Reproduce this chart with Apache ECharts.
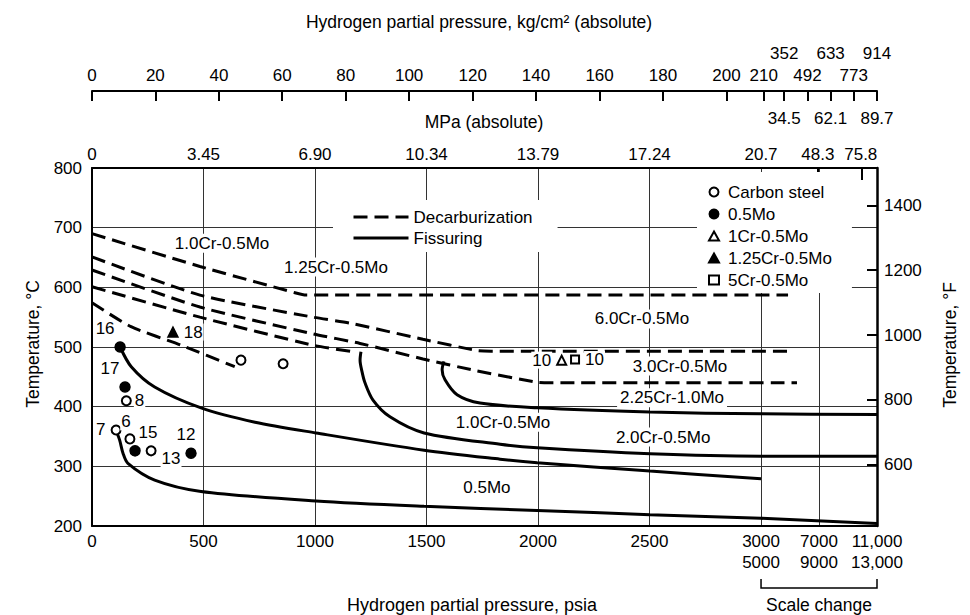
<!DOCTYPE html>
<html>
<head>
<meta charset="utf-8">
<script src="https://cdn.jsdelivr.net/npm/echarts@6/dist/echarts.min.js"></script>
<style>html,body{margin:0;padding:0;background:#fff}#c{width:970px;height:615px}</style>
</head>
<body>
<div id="c"></div>
<script>
// ---------------- DATA (x: hydrogen partial pressure, psia; y: temperature, °C) ----------------
// Decarburization (dashed) curves
const decarbA = [[0,690],[484,635],[910,591],[960,587],[5330,587]];
const decarbB = [[0,651],[484,587],[991,550],[1157,540],[1484,513],[1726,494],[1790,493],[5250,493]];
const decarbC = [[0,629],[484,567],[991,522],[1202,506],[1484,480],[1726,460],[1996,441],[2050,440],[6100,440]];
const decarbD = [[0,601],[484,550],[991,503],[1170,492]];
const decarbE = [[0,574],[175,534],[400,503],[640,467]];
// Fissuring (solid) curves
const fissF1 = [[126,500],[176,467],[281,433],[489,398],[731,374],[1004,356],[1489,327],[1830,312],[1996,306],[2502,292],[3000,279]];
const fissF2 = [[1206,492],[1202,478],[1210,460],[1224,440],[1260,411],[1336,383],[1489,356],[1830,337],[1996,331],[2502,321],[3000,317],[13000,317]];
const fissF3 = [[1578,476],[1570,462],[1583,445],[1637,420],[1740,406],[1996,398],[2502,391],[3000,388],[13000,387]];
const fissF4 = [[110,358],[124,344],[139,322],[161,305],[281,277],[489,258],[1004,242],[1489,233],[1996,226],[2502,219],[3000,213],[13000,204]];
// Operating points
const carbonSteel = [[154,410],[108,361],[170,346],[265,326],[668,478],[857,472]];
const carbonSteelNo = ['8','7','6','13','',''];
const mo05 = [[126,500],[148,433],[193,326],[444,322]];
const mo05No = ['16','17','15','12'];
const cr1mo = [[2106,478]];
const cr1moNo = ['10'];
const cr125mo = [[363,525]];
const cr125moNo = ['18'];
const cr5mo = [[2166,479]];
const cr5moNo = ['10'];
// Region labels and where they sit (psia, °C)
const regionLabels = ['1.0Cr-0.5Mo','1.25Cr-0.5Mo','6.0Cr-0.5Mo','3.0Cr-0.5Mo','2.25Cr-1.0Mo','1.0Cr-0.5Mo','2.0Cr-0.5Mo','0.5Mo'];
const regionLabelAt = [[583,674],[1094,634],[2466,547],[2637,468],[2601,415],[1843,374],[2561,349],[1771,265]];
// Tick labels (positions given in psia on the broken axis)
const psiTickLabels = ['0','500','1000','1500','2000','2500','3000\n5000','7000\n9000','11,000\n13,000'];
const psiTickAt = [0,500,1000,1500,2000,2500,3000,8000,13000];
const psiGridAt = [500,1000,1500,2000,2500,3000,8000];
const mpaLabels = ['0','3.45','6.90','10.34','13.79','17.24','20.7','48.3','75.8'];
const mpaAt = [0,500,1000,1500,2000,2500,3000,7900,11600];
const mpaExtraTickAt = [7900,11700];
const mpa2Labels = ['34.5','62.1','89.7'];
const mpa2At = [5000,9000,13000];
const kgLabels = ['0','20','40','60','80','100','120','140','160','180','200','210','492','773'];
const kgAt = [0,284,569,853,1138,1422,1707,1991,2276,2560,2845,3230,7000,11000];
const kg2Labels = ['352','633','914'];
const kg2At = [5000,9000,13000];
const fTicks = [600,800,1000,1200,1400];

// ---------------- SCALE (broken axis: compressed beyond 3000 psia) ----------------
function u(psi){ const v = psi <= 3000 ? psi : 3000 + (psi - 3000) * 0.052; return Math.round(v * 1000) / 1000; }
const X_MAX = u(13000);
const FONT = '"Liberation Sans", Arial, Helvetica, sans-serif';
const txt = {color:'#000', fontSize:17, fontFamily:FONT};
function fmtFrom(at, labels){ const us = at.map(u); return function(v){ const i = us.findIndex(w => Math.abs(w - v) < 0.01); return i >= 0 ? labels[i] : ''; }; }
const mapPts = arr => arr.map(p => [u(p[0]), p[1]]);

const place = {
  r:  {position:'right', distance:4},
  r8: {position:'right', distance:2},
  l:  {position:'left', distance:4},
  t:  {position:'top', distance:4, offset:[-5,0]},
  t6: {position:'top', distance:3, offset:[-4,0]},
  tl: {position:'top', distance:4, offset:[-15,0]},
  tr: {position:'top', distance:4, offset:[13,0]},
  br: {position:'right', distance:4, offset:[0,8]}
};
const carbonPlace = ['r8','l','t6','br','',''];
const moPlace = ['tl','tl','tr','t'];

function ptData(pts, nos, places){
  return pts.map((p, i) => {
    const item = {value:[u(p[0]), p[1]]};
    if (nos[i]) item.label = Object.assign({show:true, formatter:nos[i], color:'#000', fontSize:17, fontFamily:FONT, backgroundColor:'#fff', padding:[0,1]}, place[places[i]]);
    return item;
  });
}
const ptLabel = {show:false, ...txt};
const ptStyle = {color:'#000', borderColor:'#000', borderWidth:1.5, opacity:1};

const series = [];
[decarbA, decarbB, decarbC, decarbD, decarbE].forEach(d => series.push({
  type:'line', name:'Decarburization', data:mapPts(d), symbol:'none', showSymbol:false, smooth:0.2,
  color:'#000', itemStyle:{color:'#000'},
  lineStyle:{color:'#000', width:3, type:[14,7]}, z:3, silent:true, animation:false
}));
[fissF1, fissF2, fissF3, fissF4].forEach(d => series.push({
  type:'line', name:'Fissuring', data:mapPts(d), symbol:'none', showSymbol:false, smooth:0.3,
  color:'#000', itemStyle:{color:'#000'},
  lineStyle:{color:'#000', width:3, type:'solid'}, z:3, silent:true, animation:false
}));
series.push({type:'scatter', name:'Carbon steel', symbol:'emptyCircle', symbolSize:9, color:'#000', itemStyle:ptStyle, label:ptLabel, emphasis:{disabled:true}, data:ptData(carbonSteel, carbonSteelNo, carbonPlace), z:4});
series.push({type:'scatter', name:'0.5Mo', symbol:'circle', symbolSize:10, color:'#000', itemStyle:ptStyle, label:ptLabel, emphasis:{disabled:true}, data:ptData(mo05, mo05No, moPlace), z:4});
series.push({type:'scatter', name:'1Cr-0.5Mo', symbol:'emptyTriangle', symbolSize:9, color:'#000', itemStyle:ptStyle, label:ptLabel, emphasis:{disabled:true}, data:ptData(cr1mo, cr1moNo, ['l']), z:4});
series.push({type:'scatter', name:'1.25Cr-0.5Mo', symbol:'triangle', symbolSize:10, color:'#000', itemStyle:ptStyle, label:ptLabel, emphasis:{disabled:true}, data:ptData(cr125mo, cr125moNo, ['r']), z:4});
series.push({type:'scatter', name:'5Cr-0.5Mo', symbol:'emptyRect', symbolSize:8, color:'#000', itemStyle:ptStyle, label:ptLabel, emphasis:{disabled:true}, data:ptData(cr5mo, cr5moNo, ['r']), z:4});
series.push({
  type:'custom', name:'regionLabels', coordinateSystem:'cartesian2d', data:mapPts(regionLabelAt), z:5, silent:true,
  renderItem:function(params, api){
    const p = api.coord([api.value(0), api.value(1)]);
    return {type:'text', x:p[0], y:p[1], style:{text:regionLabels[params.dataIndex], fill:'#000', fontSize:17, fontFamily:FONT, align:'center', verticalAlign:'middle', backgroundColor:'#fff', padding:[1,3]}};
  }
});

const chart = echarts.init(document.getElementById('c'), null, {renderer:'svg', width:970, height:615});
const option = {
  animation:false,
  backgroundColor:'#fff',
  color:['#000'],
  textStyle:{fontFamily:FONT},
  grid:{left:92, right:93, top:168, bottom:89, containLabel:false, outerBoundsMode:'none'},
  legend:[
    {data:['Decarburization','Fissuring'], orient:'vertical', left:333, top:200, padding:[8,25,5,19],
     itemWidth:55, itemHeight:14, itemGap:3, backgroundColor:'#fff', selectedMode:false,
     itemStyle:{opacity:0}, lineStyle:{color:'#000', width:3},
     textStyle:{...txt, lineHeight:18}},
    {data:['Carbon steel','0.5Mo','1Cr-0.5Mo','1.25Cr-0.5Mo','5Cr-0.5Mo'], orient:'vertical', left:697, top:172,
     padding:[11,20,4,11], itemWidth:10, itemHeight:9, itemGap:4, backgroundColor:'#fff', selectedMode:false,
     textStyle:{...txt, lineHeight:18, padding:[0,0,0,4]}}
  ],
  xAxis:[
    {type:'value', position:'bottom', min:0, max:X_MAX,
     axisLine:{show:true, onZero:false, lineStyle:{color:'#000', width:2}},
     axisTick:{show:false, customValues:psiGridAt.map(u)},
     splitLine:{show:true, lineStyle:{color:'#333', width:1}},
     axisLabel:{...txt, customValues:psiTickAt.map(u), formatter:fmtFrom(psiTickAt, psiTickLabels), margin:5, lineHeight:21, hideOverlap:false}},
    {type:'value', position:'top', offset:0, min:0, max:X_MAX,
     axisLine:{show:true, onZero:false, lineStyle:{color:'#000', width:2}},
     axisTick:{show:true, inside:true, length:12, customValues:mpaExtraTickAt.map(u), lineStyle:{color:'#000', width:2}},
     splitLine:{show:false},
     axisLabel:{...txt, customValues:mpaAt.map(u), formatter:fmtFrom(mpaAt, mpaLabels), margin:5, hideOverlap:false}},
    {type:'value', position:'top', offset:37.5, min:0, max:X_MAX,
     axisLine:{show:false}, axisTick:{show:false}, splitLine:{show:false},
     axisLabel:{...txt, customValues:mpa2At.map(u), formatter:fmtFrom(mpa2At, mpa2Labels), margin:4, hideOverlap:false}},
    {type:'value', position:'top', offset:77, min:0, max:X_MAX,
     axisLine:{show:true, onZero:false, lineStyle:{color:'#000', width:2}},
     axisTick:{show:true, inside:true, length:10, customValues:kgAt.concat(kg2At).map(u), lineStyle:{color:'#000', width:2}},
     splitLine:{show:false},
     axisLabel:{...txt, customValues:kgAt.map(u), formatter:fmtFrom(kgAt, kgLabels), margin:7, hideOverlap:false}},
    {type:'value', position:'top', offset:102.5, min:0, max:X_MAX,
     axisLine:{show:false}, axisTick:{show:false}, splitLine:{show:false},
     axisLabel:{...txt, customValues:kg2At.map(u), formatter:fmtFrom(kg2At, kg2Labels), margin:4, hideOverlap:false}}
  ],
  yAxis:[
    {type:'value', position:'left', min:200, max:800, interval:100,
     axisLine:{show:true, onZero:false, lineStyle:{color:'#000', width:2}},
     axisTick:{show:false},
     splitLine:{show:true, lineStyle:{color:'#333', width:1}},
     axisLabel:{...txt, margin:10, formatter:v => String(v)}},
    {type:'value', position:'right', min:411, max:1515,
     axisLine:{show:true, onZero:false, lineStyle:{color:'#000', width:2.5}},
     axisTick:{show:true, inside:true, length:10, customValues:fTicks, lineStyle:{color:'#000', width:2}},
     splitLine:{show:false},
     axisLabel:{...txt, customValues:fTicks, margin:7, hideOverlap:false, formatter:v => String(Math.round(v))}}
  ],
  series:series
};
chart.setOption(option);

const x3000 = chart.convertToPixel({xAxisIndex:0}, u(3000));
const xEnd = chart.convertToPixel({xAxisIndex:0}, u(13000));
const tStyle = (t, fs) => ({text:t, fill:'#000', fontSize:fs || 17, fontFamily:FONT, align:'center', verticalAlign:'middle'});
chart.setOption({
  graphic:[
    {type:'text', x:479, y:22, style:tStyle('Hydrogen partial pressure, kg/cm² (absolute)', 17.5)},
    {type:'text', x:484, y:122, style:tStyle('MPa (absolute)', 17.5)},
    {type:'text', x:472, y:605, style:tStyle('Hydrogen partial pressure, psia', 18)},
    {type:'text', x:(x3000 + xEnd) / 2, y:605, style:tStyle('Scale change', 17.5)},
    {type:'text', x:33, y:344, rotation:Math.PI / 2, style:tStyle('Temperature, °C', 17.5)},
    {type:'text', x:950, y:345, rotation:Math.PI / 2, style:tStyle('Temperature, °F', 17.5)},
    {type:'polyline', shape:{points:[[x3000,579],[x3000,588],[xEnd,588],[xEnd,579]]}, style:{stroke:'#000', lineWidth:1.5, fill:null}}
  ]
});
</script>
</body>
</html>
